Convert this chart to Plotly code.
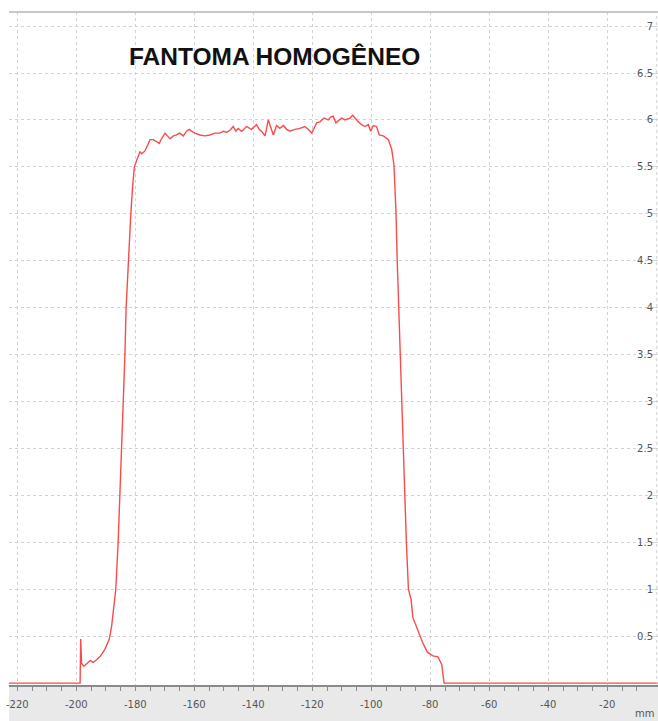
import plotly.graph_objects as go

# Lateral dose profile across the homogeneous phantom
# position in mm, relative signal

# left penumbra (incl. the small spike at the field edge)
left_pos = [-222.8, -198.7, -198.5, -198.2, -197.4, -195.3, -194.2, -192.0, -190.3,
            -188.8, -188.0, -187.5, -186.9, -186.6, -185.8, -185.2, -184.5, -184.1,
            -183.5, -183.1, -182.4, -181.5, -180.9, -180.3, -179.5, -178.4]
left_val = [0.0, 0.0, 0.47, 0.21, 0.18, 0.24, 0.22, 0.28, 0.36,
            0.47, 0.61, 0.75, 0.89, 1.0, 1.5, 2.0, 2.5, 3.0,
            3.5, 4.0, 4.5, 5.0, 5.29, 5.5, 5.57, 5.66]

# flat region
plateau_pos = [-177.8, -176.7, -175.0, -173.9, -172.8, -171.9, -171.1, -169.9, -169.1,
               -168.2, -167.1, -166.0, -164.9, -163.7, -162.6, -161.7, -160.9, -159.8,
               -158.1, -156.4, -154.7, -153.0, -151.3, -150.2, -149.0, -147.9, -146.8,
               -145.9, -145.1, -143.9, -142.3, -140.6, -138.9, -138.0, -137.2, -136.0,
               -134.9, -134.1, -133.2, -132.1, -131.0, -129.8, -128.7, -127.6, -125.9,
               -124.2, -122.5, -121.4, -120.2, -119.4, -118.5, -117.4, -116.0, -114.6,
               -113.8, -112.9, -112.0, -111.2, -110.0, -108.9, -107.2, -106.3, -105.5,
               -104.4, -103.3, -102.1, -101.0, -100.2, -99.3, -98.2, -97.3, -95.9,
               -94.2, -93.1]
plateau_val = [5.64, 5.67, 5.79, 5.79, 5.77, 5.75, 5.80, 5.86, 5.83,
               5.80, 5.83, 5.84, 5.86, 5.83, 5.88, 5.90, 5.88, 5.86,
               5.84, 5.83, 5.84, 5.86, 5.86, 5.88, 5.87, 5.89, 5.93,
               5.88, 5.91, 5.88, 5.93, 5.90, 5.95, 5.90, 5.88, 5.83,
               6.00, 5.93, 5.84, 5.94, 5.91, 5.94, 5.90, 5.88, 5.90,
               5.91, 5.93, 5.90, 5.86, 5.91, 5.97, 5.98, 6.02, 6.00,
               6.03, 6.04, 5.97, 5.99, 6.02, 6.00, 6.02, 6.05, 6.02,
               5.98, 5.95, 5.93, 5.95, 5.88, 5.94, 5.93, 5.84, 5.83,
               5.79, 5.69]

# right penumbra and tail
right_pos = [-92.3, -91.6, -91.2, -90.7, -90.2, -89.7, -89.2, -88.7, -88.1,
             -87.4, -86.5, -85.9, -84.3, -82.7, -81.0, -79.1, -77.4, -76.1,
             -75.5, -75.3, -2.8]
right_val = [5.52, 5.0, 4.5, 4.0, 3.5, 3.0, 2.5, 2.0, 1.5,
             1.0, 0.89, 0.7, 0.57, 0.44, 0.33, 0.29, 0.28, 0.2,
             0.04, 0.0, 0.0]

x_ticks = [-220, -200, -180, -160, -140, -120, -100, -80, -60, -40, -20]
x_labels = ["-220", "-200", "-180", "-160", "-140", "-120", "-100", "-80", "-60", "-40", "-20"]
y_ticks = [0.5, 1, 1.5, 2, 2.5, 3, 3.5, 4, 4.5, 5, 5.5, 6, 6.5, 7]
y_labels = ["0.5", "1", "1.5", "2", "2.5", "3", "3.5", "4", "4.5", "5", "5.5", "6", "6.5", "7"]

title_text = "FANTOMA HOMOGÊNEO"
unit_text = "mm"

pos = left_pos + plateau_pos + right_pos
val = left_val + plateau_val + right_val

fig = go.Figure()
fig.add_trace(go.Scatter(
    x=pos, y=val, mode="lines",
    line=dict(color="rgb(250,75,75)", width=1.4),
    hoverinfo="skip", showlegend=False,
))

grid_col = "#d2d2d2"
axis_col = "#8a8a8a"
label_font = dict(family="DejaVu Sans", size=10, color="#555555")

fig.update_layout(
    width=658, height=721,
    margin=dict(l=9, r=0, t=12, b=36),
    paper_bgcolor="white", plot_bgcolor="white",
    showlegend=False,
    xaxis=dict(
        range=[-222.8, -2.8],
        tickmode="array", tickvals=x_ticks, ticktext=x_labels,
        showgrid=True, gridcolor=grid_col, griddash="dot", gridwidth=1,
        zeroline=False,
        showline=True, linecolor=axis_col, linewidth=1.5,
        ticks="outside", ticklen=4, tickcolor=axis_col, tickwidth=1,
        minor=dict(tickmode="linear", tick0=0, dtick=5, ticks="outside",
                   ticklen=4, tickcolor=axis_col, showgrid=False),
        tickfont=label_font,
        ticklabelstandoff=5,
    ),
    yaxis=dict(
        range=[-0.02, 7.15],
        side="right",
        tickmode="array", tickvals=y_ticks, ticktext=y_labels,
        ticklabelposition="inside",
        showgrid=True, gridcolor=grid_col, griddash="dot", gridwidth=1,
        zeroline=False, showline=False,
        ticks="inside", ticklen=4, tickcolor="#d4d4d4",
        tickfont=label_font,
    ),
    shapes=[
        # grey band under the horizontal axis
        dict(type="rect", xref="paper", yref="paper",
             x0=0, x1=1, y0=-36 / 673, y1=0,
             fillcolor="#e9e9e9", line=dict(width=0), layer="below"),
        # top frame line
        dict(type="line", xref="paper", yref="paper",
             x0=0, x1=1, y0=1, y1=1,
             line=dict(color="#b4b4b4", width=1.5)),
        # dotted right edge
        dict(type="line", xref="paper", yref="paper",
             x0=0.998, x1=0.998, y0=0, y1=1,
             line=dict(color=grid_col, width=1, dash="dot")),
    ],
    annotations=[
        dict(text=title_text, xref="paper", yref="paper",
             x=(274.5 - 9) / 649, y=(685 - 57) / 673,
             xanchor="center", yanchor="middle", showarrow=False,
             font=dict(family="Liberation Sans", size=24.5, color="#111111",
                       weight="bold")),
        dict(text=unit_text, xref="paper", yref="paper",
             x=(656 - 9) / 649, y=(685 - 713) / 673,
             xanchor="right", yanchor="middle", showarrow=False,
             font=label_font),
    ],
)

fig.write_html("out.html")
